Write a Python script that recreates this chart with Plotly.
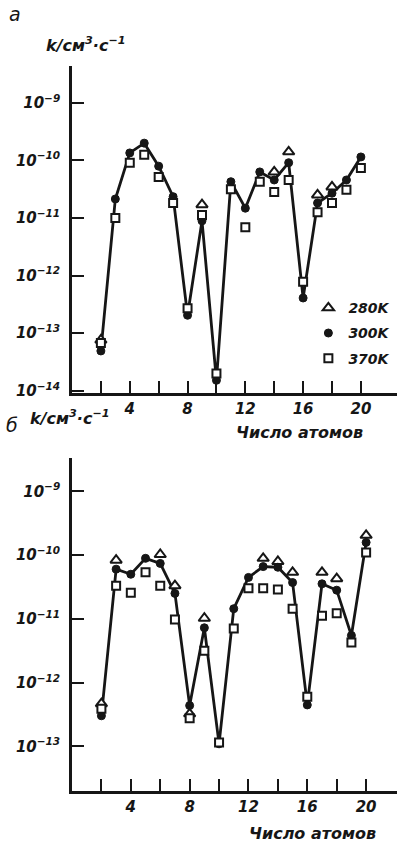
import plotly.graph_objects as go
from plotly.subplots import make_subplots

# number of atoms
n_atoms = list(range(2, 21))

# Panel а: log10(k / cm^3 s^-1); None = marker hidden under the 300K point
a_280 = [-13.12, None, None, None, None, None, None, -10.77, None, None,
         None, None, -10.20, -9.85, None, -10.60, -10.46, None, None]
a_300 = [-13.31, -10.67, -9.87, -9.70, -10.10, -10.63, -12.69, -11.05, -13.82, -10.37,
         -10.83, -10.20, -10.34, -10.04, -12.39, -10.74, -10.57, -10.34, -9.94]
a_370 = [-13.17, -11.00, -10.04, -9.90, -10.29, -10.74, -12.57, -10.95, -13.70, -10.50,
         -11.16, -10.37, -10.55, -10.34, -12.11, -10.90, -10.74, -10.51, -10.13]

# Panel б
b_280 = [-12.33, -10.08, None, None, -9.99, -10.48, -12.49, -10.99, None, None,
         None, -10.05, -10.10, -10.27, None, -10.27, -10.37, None, -9.69]
b_300 = [-12.52, -10.22, -10.30, -10.05, -10.13, -10.60, -12.36, -11.14, -12.96, -10.84,
         -10.35, -10.18, -10.19, -10.43, -12.35, -10.45, -10.55, -11.26, -9.80]
b_370 = [-12.41, -10.48, -10.59, -10.27, -10.48, -11.01, -12.56, -11.50, -12.94, -11.15,
         -10.52, -10.52, -10.54, -10.84, -12.22, -10.95, -10.91, -11.37, -9.96]

y_tick_exp = [-9, -10, -11, -12, -13, -14]
x_major_ticks = [4, 8, 12, 16, 20]
x_minor_ticks = [2, 6, 10, 14, 18]
series_names = ["280K", "300K", "370K"]

def to_k(v):
    return [None if e is None else 10 ** e for e in v]

FONT = "DejaVu Sans"
INK = "#161616"

fig = make_subplots(rows=2, cols=1, vertical_spacing=0.09)

for row, (s280, s300, s370) in enumerate([(a_280, a_300, a_370), (b_280, b_300, b_370)], start=1):
    show = row == 1
    fig.add_trace(go.Scatter(x=n_atoms, y=to_k(s300), mode="lines",
                             line=dict(color=INK, width=2.8), showlegend=False,
                             hoverinfo="skip"), row=row, col=1)
    fig.add_trace(go.Scatter(x=n_atoms, y=to_k(s280), mode="markers", name=series_names[0],
                             legendgroup="g1", showlegend=show,
                             marker=dict(symbol="triangle-up", size=10, color="white",
                                         line=dict(color=INK, width=2))), row=row, col=1)
    fig.add_trace(go.Scatter(x=n_atoms, y=to_k(s300), mode="markers", name=series_names[1],
                             legendgroup="g2", showlegend=show,
                             marker=dict(symbol="circle", size=8, color=INK,
                                         line=dict(color=INK, width=1))), row=row, col=1)
    fig.add_trace(go.Scatter(x=n_atoms, y=to_k(s370), mode="markers", name=series_names[2],
                             legendgroup="g3", showlegend=show,
                             marker=dict(symbol="square", size=8, color="white",
                                         line=dict(color=INK, width=2))), row=row, col=1)

ytext = [f"10<sup>−{-e}</sup>" for e in y_tick_exp]
yvals = [10 ** e for e in y_tick_exp]

tick_font = dict(family=FONT, size=15, color=INK, style="italic", weight="bold")
common_x = dict(showgrid=False, zeroline=False, showline=True, linecolor=INK, linewidth=2.6,
                ticks="inside", ticklen=12, tickwidth=2.2, tickcolor=INK, automargin=False,
                tickvals=x_major_ticks,
                minor=dict(tickvals=x_minor_ticks, ticks="inside", ticklen=12, tickwidth=2.2,
                           tickcolor=INK, showgrid=False),
                tickfont=tick_font)
common_y = dict(type="log", showgrid=False, zeroline=False, showline=True, linecolor=INK,
                linewidth=2.6, ticks="inside", ticklen=12, tickwidth=2.2, tickcolor=INK,
                tickvals=yvals, ticktext=ytext, ticklabelstandoff=6, automargin=False,
                tickfont=tick_font)

fig.update_xaxes(**common_x)
fig.update_yaxes(**common_y)
fig.update_layout(
    xaxis=dict(domain=[0, 1], range=[0, 22.5], anchor="y"),
    xaxis2=dict(domain=[0, 1], range=[0, 22.1], anchor="y2"),
    yaxis=dict(domain=[0.549, 1.0], range=[-14.04, -8.36]),
    yaxis2=dict(domain=[0.0, 0.459], range=[-13.7, -8.48]),
)

ann_font = dict(family=FONT, size=16, color=INK, style="italic", weight="bold")
lbl_font = dict(family=FONT, size=19, color=INK, style="italic")
def ann(text, x, y, font, xanchor="center"):
    return dict(text=text, x=x, y=y, xref="paper", yref="paper", showarrow=False,
                xanchor=xanchor, yanchor="middle", font=font)

annotations = [
    ann("а", -0.175, 1.072, lbl_font),
    ann("б", -0.185, 0.505, lbl_font),
    ann("k/см<sup>3</sup>·с<sup>−1</sup>", -0.085, 1.029, ann_font, "left"),
    ann("k/см<sup>3</sup>·с<sup>−1</sup>", -0.135, 0.515, ann_font, "left"),
    ann("Число атомов", 0.70, 0.495, ann_font),
    ann("Число атомов", 0.74, -0.058, ann_font),
]

fig.update_layout(
    width=411, height=847,
    margin=dict(l=72, r=14, t=66, b=56),
    paper_bgcolor="white", plot_bgcolor="white",
    annotations=annotations,
    legend=dict(x=0.995, y=0.688, xanchor="right", yanchor="top", bgcolor="rgba(0,0,0,0)",
                font=dict(family=FONT, size=14, color=INK, style="italic", weight="bold"),
                tracegroupgap=4, itemwidth=30),
    font=dict(family=FONT, color=INK),
)

fig.write_html("out.html", config={"displayModeBar": False},
               post_script="document.body.style.margin='0';document.body.style.overflow='hidden';")
